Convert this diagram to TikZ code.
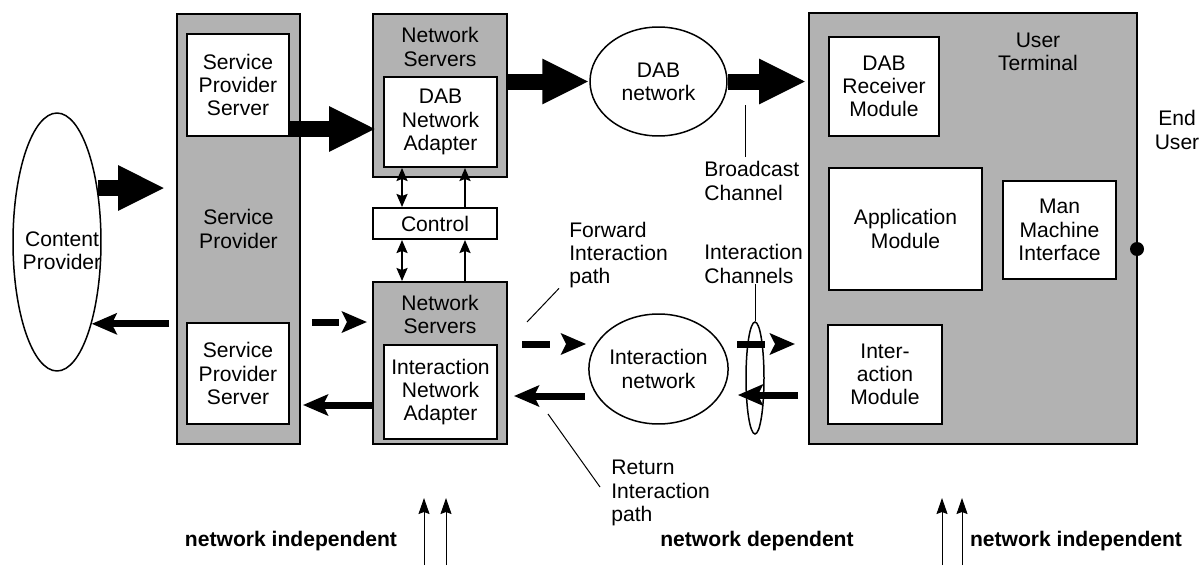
\documentclass[tikz,border=0pt]{standalone}
\usepackage{fontspec}
\setmainfont{Liberation Sans}
\usetikzlibrary{arrows.meta,shapes.geometric}

\tikzset{
  lbl/.style={font=\fontsize{12}{13.2}\selectfont, align=center, inner sep=0pt},
  graybox/.style={draw, line width=0.04cm, fill=black!30, inner sep=0pt},
  whitebox/.style={draw, line width=0.04cm, fill=white, lbl},
  netcloud/.style={draw, ellipse, line width=0.03cm, lbl},
  bigarrow/.style={line width=0.32cm, -{Triangle[length=0.94cm, width=0.84cm]}},
  midarrow/.style={line width=0.14cm, -{Stealth[length=0.5cm, width=0.42cm, inset=0.1cm]}},
  dasharrow/.style={midarrow, dash pattern=on 0.55cm off 1cm},
  tinyarrow/.style={line width=0.04cm, -{Stealth[length=0.26cm, width=0.22cm, inset=0.04cm]}},
  tinydouble/.style={line width=0.04cm, {Stealth[length=0.26cm, width=0.22cm, inset=0.04cm]}-{Stealth[length=0.26cm, width=0.22cm, inset=0.04cm]}},
  thinarrow/.style={line width=0.02cm, -{Stealth[length=0.32cm, width=0.22cm, inset=0.04cm]}},
  leader/.style={line width=0.02cm},
  zonetext/.style={font=\fontsize{12}{13.2}\selectfont\bfseries, inner sep=0pt}
}

\begin{document}
\begin{tikzpicture}[x=0.02cm, y=-0.02cm]
    \useasboundingbox (0,0) rectangle (1200,565);

    % First the content provider and the service provider
    \node[netcloud, minimum width=1.76cm, minimum height=5.16cm] (cp) at (57,242) {};
    \node[lbl] (cptext) at (62,251) {Content\\Provider};
    \node[graybox, lbl, minimum width=2.46cm, minimum height=8.6cm] (sp) at (238.5,229) {Service\\Provider};
    \node[whitebox, minimum width=2.04cm, minimum height=2.04cm] (spsa) at (238,85) {Service\\Provider\\Server};
    \node[whitebox, minimum width=2.04cm, minimum height=2.02cm] (spsb) at (238,373.5) {Service\\Provider\\Server};

    % Now the network servers and the control
    \node[graybox, minimum width=2.68cm, minimum height=3.26cm] (nsa) at (440,95.5) {};
    \node[lbl] (nsatext) at (440,47) {Network\\Servers};
    \node[whitebox, minimum width=2.26cm, minimum height=1.8cm] (dabna) at (440.5,122) {DAB\\Network\\Adapter};
    \node[whitebox, minimum width=2.48cm, minimum height=0.62cm] (ctrl) at (435,223.5) {Control};
    \node[graybox, minimum width=2.68cm, minimum height=3.24cm] (nsb) at (440,363) {};
    \node[lbl] (nsbtext) at (440,314.5) {Network\\Servers};
    \node[whitebox, minimum width=2.26cm, minimum height=1.88cm] (ina) at (440.5,392) {Interaction\\Network\\Adapter};

    % Now the two networks and the channels
    \node[netcloud, minimum width=2.74cm, minimum height=2.18cm] (dabn) at (658.5,81.5) {DAB\\network};
    \node[netcloud, minimum width=2.7cm, minimum height=2.2cm] (intn) at (658.5,369) {Interaction\\network};
    \node[netcloud, minimum width=0.36cm, minimum height=2.24cm] (ich) at (755,378) {};
    \node[lbl, align=left, anchor=west] (bctext) at (704,181) {Broadcast\\Channel};
    \node[lbl, align=left, anchor=west] (ichtext) at (704,264) {Interaction\\Channels};
    \node[lbl, align=left, anchor=west] (fwdtext) at (569,255) {Forward\\Interaction\\path};
    \node[lbl, align=left, anchor=west] (rettext) at (611,493) {Return\\Interaction\\path};

    % Now the user terminal
    \node[graybox, minimum width=6.56cm, minimum height=8.62cm] (ut) at (973,228.5) {};
    \node[lbl] (uttext) at (1038,52) {User\\Terminal};
    \node[whitebox, minimum width=2.2cm, minimum height=1.98cm] (drm) at (884,86.5) {DAB\\Receiver\\Module};
    \node[whitebox, minimum width=3.06cm, minimum height=2.44cm] (am) at (905.5,229) {Application\\Module};
    \node[whitebox, minimum width=2.26cm, minimum height=1.96cm] (mmi) at (1059.5,230) {Man\\Machine\\Interface};
    \node[whitebox, minimum width=2.28cm, minimum height=1.98cm] (im) at (885,374.5) {Inter-\\action\\Module};
    \node[circle, fill, inner sep=0pt, minimum size=0.28cm] (eudot) at (1137,249) {};
    \node[lbl] (eutext) at (1177,130) {End\\User};

    % Now the broadcast arrows
    \draw[bigarrow, shorten >=0.22cm] (cp.53) -- (cp.53 -| sp.west);
    \coordinate (spsout) at ([yshift=0.16cm]spsa.south east);
    \draw[bigarrow, shorten >=0.14cm] (spsout) -- (spsout -| dabna.west);
    \draw[bigarrow] (nsa.east |- dabn.west) -- (dabn.west);
    \draw[bigarrow, shorten >=0.04cm] (dabn.east) -- (dabn.east -| ut.west);

    % Now the interaction arrows
    \draw[midarrow, shorten <=0.14cm] (cp.-67 -| sp.west) -- (cp.-67);
    \draw[dasharrow, shorten <=0.22cm, shorten >=0.1cm] (sp.east |- spsb.north) -- (nsb.west |- spsb.north);
    \coordinate (spret) at (372,405);
    \draw[midarrow, shorten >=0.04cm] (spret) -- (spret -| sp.east);
    \coordinate (fwdstart) at (522,344);
    \draw[dasharrow, shorten >=0.04cm] (fwdstart) -- (fwdstart -| intn.west);
    \coordinate (retstart) at (585,396);
    \draw[midarrow, shorten >=0.12cm] (retstart) -- (retstart -| nsb.east);
    \coordinate (chfwd) at (737,344);
    \draw[dasharrow, shorten >=0.26cm] (chfwd) -- (chfwd -| ut.west);
    \coordinate (chret) at (798,395);
    \draw[midarrow, shorten >=0.18cm] (chret) -- (chret -| intn.east);

    % Now the control arrows
    \coordinate (ctla) at ([xshift=0.6cm]ctrl.north west);
    \coordinate (ctlb) at ([xshift=0.6cm]ctrl.south west);
    \coordinate (ctlc) at ([xshift=1.86cm]ctrl.north west);
    \coordinate (ctld) at ([xshift=1.86cm]ctrl.south west);
    \draw[tinydouble] (dabna.south -| ctla) -- (ctla);
    \draw[tinydouble] (ctlb) -- (ctlb |- nsb.north);
    \draw[tinyarrow] (ctlc) -- (ctlc |- dabna.south);
    \draw[tinyarrow] (ctld |- nsb.north) -- (ctld);

    % Now the leader lines
    \draw[leader] (745,157) -- (745,105);
    \draw[leader] (ich.north) -- (ich.north |- ichtext.south);
    \coordinate (fwdleader) at (527,322);
    \draw[leader] (fwdleader) -- ([xshift=-0.2cm]fwdtext.south west);
    \coordinate (retleader) at (548,414);
    \draw[leader] (retleader) -- ([xshift=-0.22cm, yshift=0.12cm]rettext.west);

    % Now the zones at the bottom
    \node[zonetext] (zonea) at (291,541) {network independent};
    \node[zonetext] (zoneb) at (757,541) {network dependent};
    \node[zonetext] (zonec) at (1076,541) {network independent};
    \coordinate (bnda) at (424,565);
    \coordinate (bndb) at (446,565);
    \coordinate (bndc) at (942,565);
    \coordinate (bndd) at (962,565);
    \draw[thinarrow] (bnda) -- ++(0,-67);
    \draw[thinarrow] (bndb) -- ++(0,-67);
    \draw[thinarrow] (bndc) -- ++(0,-67);
    \draw[thinarrow] (bndd) -- ++(0,-67);

\end{tikzpicture}
\end{document}
